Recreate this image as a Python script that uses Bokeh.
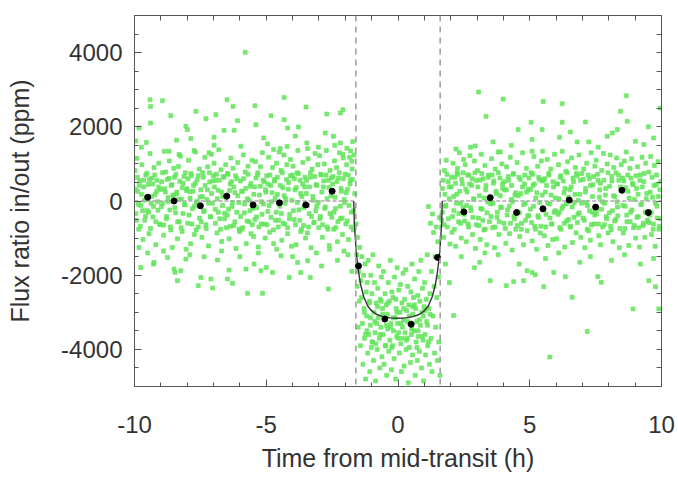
from bokeh.plotting import figure
from bokeh.models import Range1d, FixedTicker, LinearAxis, Span
from bokeh.embed import file_html
from bokeh.resources import INLINE

# ---------------- data ----------------
# binned means (1 h bins)
t_bin = [-9.5, -8.5, -7.5, -6.5, -5.5, -4.5, -3.5, -2.5, -1.5, -0.5,
         0.5, 1.5, 2.5, 3.5, 4.5, 5.5, 6.5, 7.5, 8.5, 9.5]
f_bin = [100, 0, -130, 130, -105, -50, -105, 265, -1750, -3180,
         -3320, -1520, -295, 90, -310, -210, 25, -165, 290, -310]

# transit model curve
t_model = [-1.68, -1.66, -1.63, -1.6, -1.56, -1.5, -1.42, -1.3, -1.15, -1.0, -0.8,
           -0.6, -0.3, 0.0, 0.3, 0.6, 0.8, 1.0, 1.15, 1.3, 1.42, 1.5, 1.56, 1.6,
           1.63, 1.66, 1.68]
f_model = [0, -550, -900, -1200, -1550, -1900, -2250, -2580, -2830, -2960, -3060,
           -3110, -3150, -3160, -3150, -3110, -3060, -2960, -2830, -2580, -2250,
           -1900, -1550, -1200, -900, -550, 0]

# out-of-transit baseline and transit limits
t_base_pre = [-10, -1.68]
t_base_post = [1.68, 10]
f_base = [0, 0]
t_edges = [-1.6, 1.6]

# individual measurements, before transit
t_pre = [
 -9.98,-9.95,-9.91,-9.88,-9.84,-9.80,-9.76,-9.72,-9.68,-9.65,-9.61,-9.57,-9.54,-9.51,
 -9.48,-9.45,-9.41,-9.37,-9.34,-9.30,-9.26,-9.22,-9.19,-9.15,-9.11,-9.08,-9.04,-9.01,
 -8.98,-8.94,-8.90,-8.87,-8.83,-8.79,-8.76,-8.72,-8.68,-8.64,-8.61,-8.57,-8.54,-8.51,
 -8.48,-8.44,-8.41,-8.37,-8.33,-8.30,-8.26,-8.22,-8.19,-8.15,-8.11,-8.07,-8.04,-8.01,
 -7.98,-7.95,-7.91,-7.87,-7.84,-7.80,-7.76,-7.73,-7.69,-7.65,-7.62,-7.58,-7.54,-7.51,
 -7.48,-7.44,-7.41,-7.37,-7.33,-7.29,-7.26,-7.22,-7.19,-7.15,-7.11,-7.08,-7.04,-7.01,
 -6.98,-6.94,-6.91,-6.87,-6.83,-6.80,-6.76,-6.72,-6.69,-6.65,-6.61,-6.58,-6.54,-6.51,
 -6.48,-6.45,-6.41,-6.37,-6.34,-6.30,-6.26,-6.23,-6.19,-6.15,-6.12,-6.08,-6.04,-6.01,
 -5.98,-5.94,-5.91,-5.87,-5.83,-5.80,-5.76,-5.72,-5.69,-5.65,-5.61,-5.58,-5.54,-5.51,
 -5.48,-5.44,-5.41,-5.37,-5.33,-5.30,-5.26,-5.22,-5.19,-5.15,-5.11,-5.08,-5.04,-5.01,
 -4.98,-4.94,-4.91,-4.87,-4.83,-4.80,-4.76,-4.72,-4.69,-4.65,-4.61,-4.58,-4.54,-4.51,
 -4.48,-4.44,-4.41,-4.37,-4.33,-4.30,-4.26,-4.22,-4.19,-4.15,-4.11,-4.08,-4.04,-4.01,
 -3.98,-3.94,-3.91,-3.87,-3.83,-3.80,-3.76,-3.72,-3.69,-3.65,-3.61,-3.58,-3.54,-3.51,
 -3.48,-3.44,-3.41,-3.37,-3.33,-3.30,-3.26,-3.22,-3.19,-3.15,-3.11,-3.08,-3.04,-3.01,
 -2.98,-2.94,-2.91,-2.87,-2.83,-2.80,-2.76,-2.72,-2.69,-2.65,-2.61,-2.58,-2.54,-2.51,
 -2.48,-2.44,-2.41,-2.37,-2.33,-2.30,-2.26,-2.22,-2.19,-2.15,-2.11,-2.08,-2.04,-2.01,
 -1.98,-1.95,-1.91,-1.88,-1.84,-1.81,-1.77,-1.74,-1.70,-1.67,-1.64]
f_pre = [
 820,-340,1150,260,-760,540,-120,980,-1040,380,-520,700,90,-260,
 450,-880,1280,-60,620,-430,900,170,-1180,560,-250,1020,-640,310,
 -150,760,-920,1340,240,-480,580,-20,1080,-700,420,-1250,150,880,
 640,-320,190,-1020,930,-560,1210,50,-820,480,-90,760,-1300,330,
 -600,1100,250,-1150,680,-210,420,-900,1320,-40,570,-700,860,110,
 300,-980,760,-280,1180,-640,40,920,-1210,510,-430,1260,-60,680,
 1020,-220,560,-860,290,1380,-480,840,-1090,120,640,-330,980,-720,
 -380,720,-1020,460,1160,-150,880,-660,230,-1280,600,1040,-40,-820,
 540,-760,260,1240,-320,780,-1150,60,940,-560,400,-880,1100,-200,
 -960,380,1060,-430,700,-1240,160,920,-620,1300,-80,520,-1000,240,
 680,-280,1180,-840,420,-20,900,-1150,580,-520,1020,180,-700,1320,
 -140,820,-1060,360,1240,-620,60,980,-880,500,-360,1120,-1220,700,
 940,-500,300,-1180,760,1360,-240,560,-820,120,1040,-660,380,-1000,
 200,-860,1140,-340,640,-1260,860,20,-580,1280,440,-140,980,-720,
 1220,-420,700,-980,380,1000,-160,1360,-700,560,-1200,820,140,-440,
 460,-760,1080,-200,900,-1100,620,1300,-480,260,-900,1160,40,720,
 -620,980,320,-1040,1180,560,-300,860,-780,1240,200]

# further measurements before transit (dense middle of the cloud)
t_pre_mid = [
 -9.97,-9.93,-9.89,-9.86,-9.82,-9.78,-9.73,-9.69,-9.66,-9.62,-9.58,-9.53,
 -9.47,-9.43,-9.39,-9.36,-9.32,-9.28,-9.23,-9.19,-9.16,-9.12,-9.08,-9.03,
 -8.97,-8.93,-8.89,-8.86,-8.82,-8.78,-8.73,-8.69,-8.66,-8.62,-8.58,-8.53,
 -8.47,-8.43,-8.39,-8.36,-8.32,-8.28,-8.23,-8.19,-8.16,-8.12,-8.08,-8.03,
 -7.97,-7.93,-7.89,-7.86,-7.82,-7.78,-7.73,-7.69,-7.66,-7.62,-7.58,-7.53,
 -7.47,-7.43,-7.39,-7.36,-7.32,-7.28,-7.23,-7.19,-7.16,-7.12,-7.08,-7.03,
 -6.97,-6.93,-6.89,-6.86,-6.82,-6.78,-6.73,-6.69,-6.66,-6.62,-6.58,-6.53,
 -6.47,-6.43,-6.39,-6.36,-6.32,-6.28,-6.23,-6.19,-6.16,-6.12,-6.08,-6.03,
 -5.97,-5.93,-5.89,-5.86,-5.82,-5.78,-5.73,-5.69,-5.66,-5.62,-5.58,-5.53,
 -5.47,-5.43,-5.39,-5.36,-5.32,-5.28,-5.23,-5.19,-5.16,-5.12,-5.08,-5.03,
 -4.97,-4.93,-4.89,-4.86,-4.82,-4.78,-4.73,-4.69,-4.66,-4.62,-4.58,-4.53,
 -4.47,-4.43,-4.39,-4.36,-4.32,-4.28,-4.23,-4.19,-4.16,-4.12,-4.08,-4.03,
 -3.97,-3.93,-3.89,-3.86,-3.82,-3.78,-3.73,-3.69,-3.66,-3.62,-3.58,-3.53,
 -3.47,-3.43,-3.39,-3.36,-3.32,-3.28,-3.23,-3.19,-3.16,-3.12,-3.08,-3.03,
 -2.97,-2.93,-2.89,-2.86,-2.82,-2.78,-2.73,-2.69,-2.66,-2.62,-2.58,-2.53,
 -2.47,-2.43,-2.39,-2.36,-2.32,-2.28,-2.23,-2.19,-2.16,-2.12,-2.08,-2.03,
 -1.97,-1.93,-1.89,-1.86,-1.82,-1.78,-1.73,-1.69]
f_pre_mid = [
 310,-520,640,-90,420,-680,180,-260,560,20,-410,750,
 -300,580,-740,120,460,-150,700,-560,260,-20,380,-620,
 520,-60,-650,330,780,-420,90,610,-240,-780,440,160,
 -180,720,240,-560,40,530,-720,360,-340,660,-100,280,
 600,-380,80,740,-620,260,-140,480,-780,-10,680,-460,
 -560,120,640,-260,420,-740,300,-60,760,-420,200,540,
 380,-600,720,60,-300,560,-760,240,-120,660,-480,100,
 740,-220,280,-680,520,-40,380,-560,680,-300,140,-760,
 -420,260,-720,600,-80,340,-540,720,20,-260,480,-640,
 180,-500,620,-180,760,-700,400,-20,-360,560,-620,300,
 -640,460,-120,700,-440,220,-780,540,80,-300,640,-520,
 420,-340,760,-600,140,-60,580,-720,320,-480,680,20,
 -260,600,-640,360,-40,740,-520,200,-760,460,-180,640,
 560,-120,-700,380,760,-420,120,-580,660,-260,420,-40,
 -480,720,240,-640,540,-200,700,60,-760,360,-340,620,
 660,-300,100,-720,520,-560,760,-140,340,-460,600,-40,
 220,-540,700,-120,460,-700,580,-260]

# individual measurements, in transit
t_in = [
 -1.59,-1.57,-1.55,-1.53,-1.51,-1.49,-1.47,-1.45,-1.43,-1.41,
 -1.39,-1.37,-1.35,-1.33,-1.31,-1.29,-1.27,-1.25,-1.23,-1.21,
 -1.19,-1.17,-1.15,-1.13,-1.11,-1.09,-1.07,-1.05,-1.03,-1.01,
 -0.99,-0.97,-0.95,-0.93,-0.91,-0.89,-0.87,-0.85,-0.83,-0.81,
 -0.79,-0.77,-0.75,-0.73,-0.71,-0.69,-0.67,-0.65,-0.63,-0.61,
 -0.59,-0.57,-0.55,-0.53,-0.51,-0.49,-0.47,-0.45,-0.43,-0.41,
 -0.39,-0.37,-0.35,-0.33,-0.31,-0.29,-0.27,-0.25,-0.23,-0.21,
 -0.19,-0.17,-0.15,-0.13,-0.11,-0.09,-0.07,-0.05,-0.03,-0.01,
 0.01,0.03,0.05,0.07,0.09,0.11,0.13,0.15,0.17,0.19,
 0.21,0.23,0.25,0.27,0.29,0.31,0.33,0.35,0.37,0.39,
 0.41,0.43,0.45,0.47,0.49,0.51,0.53,0.55,0.57,0.59,
 0.61,0.63,0.65,0.67,0.69,0.71,0.73,0.75,0.77,0.79,
 0.81,0.83,0.85,0.87,0.89,0.91,0.93,0.95,0.97,0.99,
 1.01,1.03,1.05,1.07,1.09,1.11,1.13,1.15,1.17,1.19,
 1.21,1.23,1.25,1.27,1.29,1.31,1.33,1.35,1.37,1.39,
 1.41,1.43,1.45,1.47,1.49,1.51,1.53,1.55,1.57,1.59,
 -1.28,-1.18,-1.08,-0.98,-0.88,-0.78,-0.68,-0.58,-0.48,-0.38,
 -0.28,-0.18,-0.08,0.02,0.12,0.22,0.32,0.42,0.52,0.62,
 0.72,0.82,0.92,1.02,1.12,1.22,-1.24,-1.04,-0.84,-0.64,
 -0.44,-0.24,-0.04,0.16,0.36,0.56,0.76,0.96,1.16]
f_in = [
 -620,-1450,-2300,-980,-3400,-1900,-2700,-1250,-3900,-2150,
 -2600,-1500,-3300,-4400,-2000,-2900,-3700,-1700,-4800,-2450,
 -3100,-2200,-4100,-1600,-3600,-2750,-4600,-3350,-2000,-3950,
 -2500,-3800,-1450,-4300,-3000,-2200,-3550,-4850,-2750,-3300,
 -4000,-2350,-3150,-1750,-3700,-4500,-2650,-3400,-2050,-4200,
 -2900,-3600,-1900,-4400,-3200,-2500,-3900,-2800,-4700,-3050,
 -3450,-2200,-4050,-2700,-3750,-1600,-3300,-4550,-2450,-3900,
 -2600,-3500,-4250,-2050,-3150,-4800,-2900,-3650,-1800,-3300,
 -3700,-2400,-4100,-3000,-2250,-3850,-4600,-2750,-3400,-1950,
 -3200,-4450,-2650,-3550,-1850,-4000,-2950,-3700,-2300,-4900,
 -2800,-3950,-3300,-4350,-2450,-3600,-1700,-4150,-3050,-2600,
 -3500,-2100,-4700,-2900,-3800,-3250,-4300,-2550,-3650,-1900,
 -4050,-2700,-3350,-1600,-4500,-3000,-2350,-3750,-4850,-2850,
 -2200,-3600,-4150,-2650,-3250,-1450,-3900,-150,-2900,-4400,
 -2500,-600,-3700,-1900,-4600,-350,-3100,-850,-2300,-4100,
 -1500,-3400,-700,-2600,-4300,-1100,-2050,-3800,-450,-4700,
 -3000,-3500,-2700,-3800,-3250,-2850,-3600,-3050,-3900,-2750,
 -3400,-3150,-2650,-3550,-3300,-2900,-3750,-3100,-3450,-2800,
 -3950,-3200,-3650,-2950,-3350,-3050,-3600,-3150,-3850,-2700,
 -3350,-3950,-3000,-3700,-3250,-2850,-3500,-3100,-3800]

# individual measurements, after transit
t_post = [
 1.66,1.69,1.73,1.76,1.80,1.83,1.87,1.90,1.94,1.97,
 2.02,2.05,2.09,2.12,2.16,2.19,2.23,2.26,2.30,2.33,2.37,2.40,2.44,2.47,
 2.52,2.55,2.59,2.62,2.66,2.69,2.73,2.76,2.80,2.83,2.87,2.90,2.94,2.97,
 3.02,3.05,3.09,3.12,3.16,3.19,3.23,3.26,3.30,3.33,3.37,3.40,3.44,3.47,
 3.52,3.55,3.59,3.62,3.66,3.69,3.73,3.76,3.80,3.83,3.87,3.90,3.94,3.97,
 4.02,4.05,4.09,4.12,4.16,4.19,4.23,4.26,4.30,4.33,4.37,4.40,4.44,4.47,
 4.52,4.55,4.59,4.62,4.66,4.69,4.73,4.76,4.80,4.83,4.87,4.90,4.94,4.97,
 5.02,5.05,5.09,5.12,5.16,5.19,5.23,5.26,5.30,5.33,5.37,5.40,5.44,5.47,
 5.52,5.55,5.59,5.62,5.66,5.69,5.73,5.76,5.80,5.83,5.87,5.90,5.94,5.97,
 6.02,6.05,6.09,6.12,6.16,6.19,6.23,6.26,6.30,6.33,6.37,6.40,6.44,6.47,
 6.52,6.55,6.59,6.62,6.66,6.69,6.73,6.76,6.80,6.83,6.87,6.90,6.94,6.97,
 7.02,7.05,7.09,7.12,7.16,7.19,7.23,7.26,7.30,7.33,7.37,7.40,7.44,7.47,
 7.52,7.55,7.59,7.62,7.66,7.69,7.73,7.76,7.80,7.83,7.87,7.90,7.94,7.97,
 8.02,8.05,8.09,8.12,8.16,8.19,8.23,8.26,8.30,8.33,8.37,8.40,8.44,8.47,
 8.52,8.55,8.59,8.62,8.66,8.69,8.73,8.76,8.80,8.83,8.87,8.90,8.94,8.97,
 9.02,9.05,9.09,9.12,9.16,9.19,9.23,9.26,9.30,9.33,9.37,9.40,9.44,9.47,
 9.52,9.55,9.59,9.62,9.66,9.69,9.73,9.76,9.80,9.83,9.87,9.90,9.94,9.97]
f_post = [
 -520,340,-980,820,-140,1100,-700,520,60,-1160,
 380,-840,1020,-260,640,-1220,180,880,-560,1300,-60,-1000,460,760,
 -360,980,-1100,240,-620,700,1220,-180,420,-900,60,1080,-1280,560,
 820,-460,140,-1040,1260,-220,600,-780,960,300,-1180,-20,700,-560,
 -80,1140,-720,480,-1260,860,200,-440,1320,-900,620,-160,1000,340,
 -600,300,-1140,920,-240,560,-880,1180,40,-1320,720,-420,160,-760,
 1040,-300,640,-960,200,-600,1300,-1180,460,-60,880,-800,320,-400,
 -220,760,-1080,420,1200,-680,80,-1300,940,-440,580,-860,1080,160,
 560,-940,240,-360,1120,-1200,700,-80,860,-620,-1040,380,1260,-260,
 -1020,460,980,-300,640,-760,1340,-140,220,-1240,800,-540,1060,100,
 300,-680,1160,-1120,520,-40,900,-860,680,-360,1240,180,-980,740,
 -460,860,-1260,340,1020,-120,-800,600,-1060,1300,-300,440,-620,940,
 1100,-200,560,-940,300,-1180,820,-20,1280,-640,160,-420,1000,-860,
 -320,1240,-780,540,-1100,900,120,-500,1160,-160,700,-1260,380,980,
 620,-860,1080,-140,1320,-560,260,-1200,880,-300,1140,480,-720,40,
 -1000,340,920,-420,-1240,700,-80,1180,-660,520,-980,1020,200,-560,
 780,-380,1200,-900,100,-620,960,-1220,440,-140,1060,-760,300,-480]

# further measurements after transit (dense middle of the cloud)
t_post_mid = [
 1.68,1.71,1.75,1.78,1.82,1.86,1.91,1.95,
 2.03,2.07,2.11,2.14,2.18,2.22,2.27,2.31,2.34,2.38,2.42,2.47,
 2.53,2.57,2.61,2.64,2.68,2.72,2.77,2.81,2.84,2.88,2.92,2.97,
 3.03,3.07,3.11,3.14,3.18,3.22,3.27,3.31,3.34,3.38,3.42,3.47,
 3.53,3.57,3.61,3.64,3.68,3.72,3.77,3.81,3.84,3.88,3.92,3.97,
 4.03,4.07,4.11,4.14,4.18,4.22,4.27,4.31,4.34,4.38,4.42,4.47,
 4.53,4.57,4.61,4.64,4.68,4.72,4.77,4.81,4.84,4.88,4.92,4.97,
 5.03,5.07,5.11,5.14,5.18,5.22,5.27,5.31,5.34,5.38,5.42,5.47,
 5.53,5.57,5.61,5.64,5.68,5.72,5.77,5.81,5.84,5.88,5.92,5.97,
 6.03,6.07,6.11,6.14,6.18,6.22,6.27,6.31,6.34,6.38,6.42,6.47,
 6.53,6.57,6.61,6.64,6.68,6.72,6.77,6.81,6.84,6.88,6.92,6.97,
 7.03,7.07,7.11,7.14,7.18,7.22,7.27,7.31,7.34,7.38,7.42,7.47,
 7.53,7.57,7.61,7.64,7.68,7.72,7.77,7.81,7.84,7.88,7.92,7.97,
 8.03,8.07,8.11,8.14,8.18,8.22,8.27,8.31,8.34,8.38,8.42,8.47,
 8.53,8.57,8.61,8.64,8.68,8.72,8.77,8.81,8.84,8.88,8.92,8.97,
 9.03,9.07,9.11,9.14,9.18,9.22,9.27,9.31,9.34,9.38,9.42,9.47,
 9.53,9.57,9.61,9.64,9.68,9.72,9.77,9.81,9.84,9.88,9.92,9.97]
f_post_mid = [
 -300,560,-640,180,-120,720,-480,380,
 640,-420,120,-760,480,-60,720,-340,260,-600,580,-180,
 -540,320,-120,700,-700,460,-260,600,-440,40,760,-640,
 380,-660,560,-200,740,-520,80,-760,420,-320,640,-20,
 -420,700,-60,540,-700,260,-300,760,-560,140,-180,460,
 520,-740,300,-380,660,-140,-600,420,-20,740,-480,220,
 -660,140,-320,580,-760,380,-100,700,-520,240,-400,620,
 300,-580,720,-140,460,-760,220,-400,640,-40,-680,540,
 -240,600,-700,420,-60,740,-460,160,-620,520,-300,80,
 460,-360,60,-720,680,-200,540,-600,340,-80,760,-500,
 -700,380,-160,620,-440,180,740,-580,20,-320,560,-60,
 580,-520,240,-40,-760,700,-260,420,-640,120,660,-380,
 -340,720,-620,100,480,-220,-700,560,-60,340,-480,760,
 400,-680,660,-260,140,-540,760,-20,-400,560,-740,280,
 -120,540,-740,360,-380,700,80,-560,620,-240,440,-660,
 680,-440,180,-720,560,-100,380,-600,740,-300,60,-520,
 -580,240,-300,640,-760,420,-60,700,-460,120,-680,520]

# individual measurements far from the core (upper and lower fringes, outliers)
t_wing = [
 -9.41,-8.94,-9.39,-8.62,-7.67,-7.29,-6.91,-6.49,-6.26,-5.43,-4.82,-4.32,-3.49,-4.32,
 -4.19,-3.78,-9.83,-9.39,-8.05,-7.99,-6.60,-6.22,-7.86,-6.98,-6.98,-6.09,-5.39,-5.96,
 -4.95,-4.72,-4.47,-4.21,-3.43,-9.74,-8.69,-8.31,-7.74,-7.17,-5.80,-2.70,-2.19,-2.09,
 -2.76,-2.45,-3.46,-3.02,-2.19,-1.94,-1.75,-2.09,-9.95,-9.55,-8.40,-5.10,-3.90,-2.40,
 -1.72,-1.80,
 -5.71,-5.14,-8.37,-7.04,-7.58,-6.28,-4.13,-3.33,-9.26,-8.75,-8.05,-7.36,-6.85,-6.41,
 -5.77,-5.20,-4.76,-4.44,-3.81,-9.76,-9.83,-8.24,-8.50,-5.46,-5.00,-3.69,-3.43,-7.10,
 -6.47,-7.48,-8.46,-2.64,-9.28,-2.90,-2.30,-1.90,-1.75,-9.50,-8.90,-7.90,-6.70,-6.00,
 -5.30,-4.60,-4.00,-3.10,-2.60,-2.05,
 8.66,3.99,5.51,6.23,3.34,8.44,5.05,6.23,7.11,8.70,4.56,5.47,6.54,8.32,3.61,6.13,
 6.80,7.24,7.94,8.13,9.01,9.33,5.09,5.09,5.49,3.88,3.06,9.96,2.75,2.93,2.49,2.24,
 9.70,4.30,2.20,7.60,9.50,
 5.76,7.18,6.61,8.92,9.90,3.50,4.11,5.53,6.35,7.58,7.71,9.52,9.77,5.91,4.39,4.77,
 4.90,5.09,5.21,2.11,2.40,3.10,3.80,4.60,5.60,6.10,6.90,7.30,8.10,8.60,9.20,9.70,
 2.90,3.30,1.80,1.95]
f_wing = [
 2730,2703,2550,2300,2416,2219,2327,2730,2550,2568,2300,2792,2532,2192,
 1969,1996,1969,2103,2013,1924,1906,1906,1682,1718,1503,2165,2058,1476,
 1539,1387,1414,1467,1414,1450,1342,1253,1360,1298,4008,2344,2371,2460,
 1834,1745,1566,1450,1566,1423,1074,1253,1620,1580,1640,1700,1750,1500,
 1600,1350,
 -2488,-2488,-2148,-2345,-2282,-2220,-2059,-2059,-1656,-1521,-1566,-1504,-1593,-1862,
 -1835,-1880,-1924,-1477,-1656,-1790,-1253,-1880,-1835,-1700,-1790,-1924,-1611,-2103,
 -2103,-2059,-1924,-2371,-1700,-1750,-1600,-1450,-1900,-1400,-1350,-1450,-1350,-1500,
 -1400,-1300,-1500,-1400,-1300,-1350,
 2837,2746,2684,2622,2282,2416,2121,2121,2130,2148,1924,1924,1861,1924,1593,1718,
 1593,1593,1745,1834,1611,1521,1656,1342,1342,1324,2935,2505,1450,1485,1118,760,
 1700,1500,1400,1450,2000,
 -4206,-3517,-2596,-2908,-2908,-2148,-2282,-2309,-2040,-2040,-2193,-2148,-2309,-1924,-2175,-2148,
 -1879,-1924,-1987,-3087,-1500,-1650,-1450,-1700,-1550,-1400,-1650,-1500,-1600,-1450,-1700,-1550,
 -1800,-1400,-1700,-2200]

x_major = [-10, -5, 0, 5, 10]
x_minor = [-9, -8, -7, -6, -4, -3, -2, -1, 1, 2, 3, 4, 6, 7, 8, 9]
y_major = [-4000, -2000, 0, 2000, 4000]
y_minor = [-4500, -3500, -3000, -2500, -1500, -1000, -500, 500, 1000, 1500,
           2500, 3000, 3500, 4500]

# ---------------- figure ----------------
FONT = "Liberation Sans"
TXT = "#333333"
FRAME = "#555555"
GREEN = "#62e45a"

p = figure(width=678, height=478, x_range=Range1d(-10, 10), y_range=Range1d(-5000, 5000),
           output_backend="svg", toolbar_location=None,
           min_border_left=134, min_border_right=17, min_border_top=15, min_border_bottom=92)
p.grid.visible = False
p.outline_line_color = FRAME
p.outline_line_width = 1
p.background_fill_color = "white"
p.border_fill_color = "white"


def style(ax):
    ax.axis_line_color = FRAME
    ax.major_tick_line_color = FRAME
    ax.minor_tick_line_color = FRAME
    ax.major_tick_in = 7
    ax.major_tick_out = 0
    ax.minor_tick_in = 4
    ax.minor_tick_out = 0


p.xaxis.ticker = FixedTicker(ticks=x_major, minor_ticks=x_minor)
p.yaxis.ticker = FixedTicker(ticks=y_major, minor_ticks=y_minor)
for ax in (p.xaxis[0], p.yaxis[0]):
    style(ax)
    ax.major_label_text_font = FONT
    ax.major_label_text_font_size = "24px"
    ax.major_label_text_color = TXT
    ax.axis_label_text_font = FONT
    ax.axis_label_text_font_size = "25px"
    ax.axis_label_text_font_style = "normal"
    ax.axis_label_text_color = TXT

p.xaxis.axis_label = "Time from mid-transit (h)"
p.yaxis.axis_label = "Flux ratio in/out (ppm)"
p.xaxis.major_label_overrides = {v: str(v) for v in x_major}
p.yaxis.major_label_overrides = {v: str(v) for v in y_major}
p.xaxis.major_label_standoff = 29
p.xaxis.axis_label_standoff = 8
p.yaxis.major_label_standoff = 12
p.yaxis.axis_label_standoff = 24

# tick marks along the top and right edges (no labels)
top = LinearAxis(ticker=FixedTicker(ticks=[], minor_ticks=x_major + x_minor))
style(top)
top.minor_tick_in = 5
p.add_layout(top, "above")
right = LinearAxis(ticker=FixedTicker(ticks=[], minor_ticks=y_major + y_minor))
style(right)
right.minor_tick_in = 5
p.add_layout(right, "right")

# measurements
for tx, fy in [(t_pre, f_pre), (t_pre_mid, f_pre_mid), (t_in, f_in),
               (t_post, f_post), (t_post_mid, f_post_mid), (t_wing, f_wing)]:
    p.scatter(tx, fy, marker="square", size=4, fill_color=GREEN, line_color=GREEN,
              fill_alpha=0.85, line_alpha=0.6)

# transit limits
for te in t_edges:
    p.add_layout(Span(location=te, dimension="height", line_color="#9a9a9a",
                      line_width=1.5, line_dash="6 5"))

# baseline
p.line(t_base_pre, f_base, line_color="#aaaaaa", line_width=1.5, line_dash="4 2")
p.line(t_base_post, f_base, line_color="#aaaaaa", line_width=1.5, line_dash="4 2")

# model
p.line(t_model, f_model, line_color="#333333", line_width=1.4)

# binned points
p.scatter(t_bin, f_bin, marker="circle", size=6, fill_color="black", line_color="black")

open("out.html", "w").write(file_html(p, INLINE))
